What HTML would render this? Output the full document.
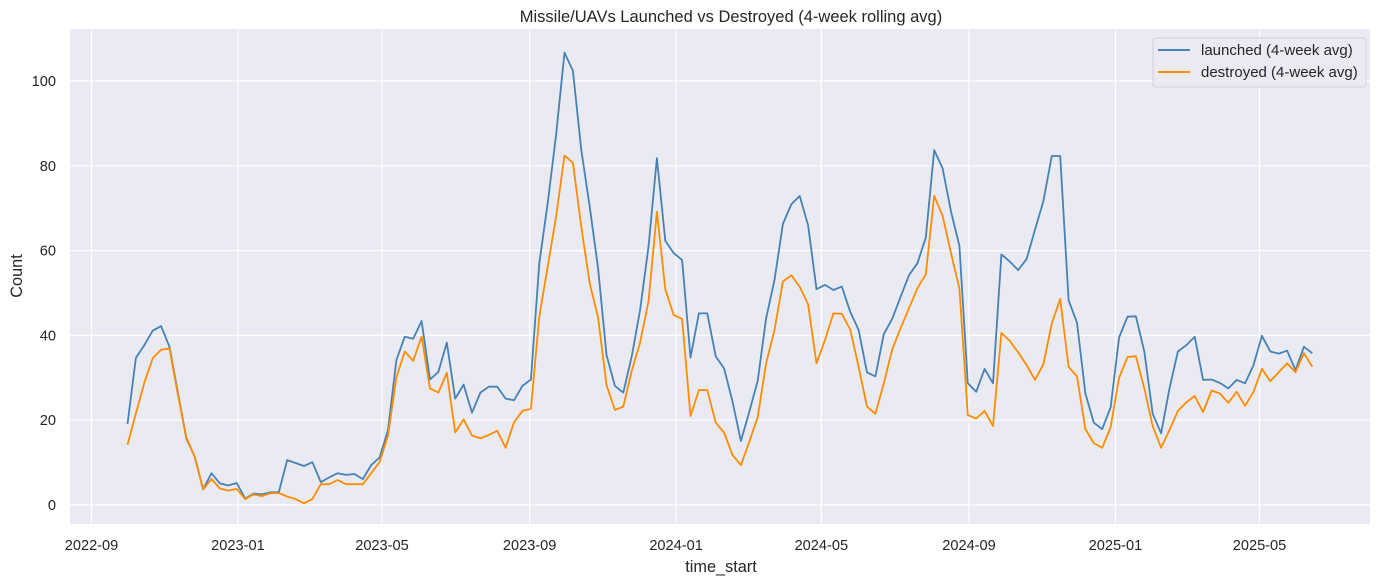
<!DOCTYPE html>
<html><head><meta charset="utf-8"><style>
body{margin:0;background:#fff;}
svg{display:block;font-family:"Liberation Sans","DejaVu Sans",sans-serif;}
</style></head><body>
<svg id="chart" width="1384" height="584" viewBox="0 0 1384 584" xmlns="http://www.w3.org/2000/svg">
<rect x="70" y="29" width="1300" height="495" fill="#eaeaf2"/>
<g id="grid"></g>
<g id="lines"></g>
<g id="ticks" fill="#262626" font-size="14.6"></g>
<text x="731" y="22" text-anchor="middle" font-size="16.5" fill="#262626">Missile/UAVs Launched vs Destroyed (4-week rolling avg)</text>
<text x="721" y="572" text-anchor="middle" font-size="16.3" fill="#262626">time_start</text>
<text transform="translate(22,276) rotate(-90)" text-anchor="middle" font-size="16.3" fill="#262626">Count</text>
<g>
<rect x="1153" y="38" width="213" height="49" rx="3" fill="#eaeaf2" fill-opacity="0.85" stroke="#d0d0d8"/>
<line x1="1158" y1="50" x2="1190" y2="50" stroke="#4682b4" stroke-width="2"/>
<text x="1201" y="55" font-size="15" fill="#262626">launched (4-week avg)</text>
<line x1="1158" y1="72" x2="1190" y2="72" stroke="#ff8c00" stroke-width="2"/>
<text x="1201" y="77" font-size="15" fill="#262626">destroyed (4-week avg)</text>
</g>
</svg>
<script>
const launched = [19.1,34.7,37.7,41.1,42.2,37.3,26.5,15.7,11.4,3.7,7.5,5.1,4.6,5.2,1.5,2.7,2.5,3.0,3.0,10.6,9.9,9.2,10.1,5.4,6.5,7.5,7.1,7.3,6.1,9.4,11.2,17.7,34.2,39.7,
39.2,43.4,29.6,31.4,38.3,25.1,28.4,21.8,26.5,27.9,27.9,25.1,24.7,28.1,29.6,57.0,71.2,87.3,106.7,102.4,83.7,70.4,55.8,35.4,28.1,26.5,35.0,46.0,60.9,81.8,62.3,59.4,
57.8,34.8,45.2,45.2,35.1,32.2,24.4,15.1,22.0,29.3,44.0,53.1,66.3,70.9,72.9,66.0,50.9,51.9,50.7,51.5,45.6,41.3,31.3,30.3,40.3,43.9,49.1,54.2,57.0,63.1,83.7,79.4,69.2,61.1,28.7,26.7,32.1,
28.7,59.1,57.4,55.4,58.0,64.9,71.7,82.3,82.3,48.3,43.0,26.3,19.4,17.9,23.0,39.5,44.4,44.5,36.2,21.5,16.9,27.5,36.2,37.7,39.7,29.5,29.6,28.8,27.5,29.5,28.7,33.0,39.9,36.2,35.7,36.4,31.8,37.3,35.8];
const destroyed = [14.2,21.6,28.8,34.6,36.6,36.9,26,16,11.4,3.7,6.1,3.9,3.4,3.8,1.4,2.5,2.1,2.8,2.8,2.0,1.4,0.4,1.4,4.9,4.9,5.9,4.9,4.9,4.9,7.5,10.1,16.4,30.1,36.2,
34.0,39.7,27.5,26.5,31.2,17.1,20.2,16.4,15.7,16.5,17.5,13.5,19.5,22.2,22.7,44.4,56.2,68.0,82.4,80.7,65.6,52.3,44.2,28.3,22.4,23.2,31.6,38.3,48.0,69.2,50.9,44.8,
43.9,21.0,27.1,27.1,19.4,17.1,11.8,9.4,14.9,20.7,33.4,41.3,52.7,54.2,51.5,47.3,33.4,38.9,45.2,45.1,41.4,32.6,23.2,21.5,28.7,36.7,41.7,46.4,51.1,54.4,72.9,68.2,59.4,51.1,21.2,20.4,22.2,
18.6,40.6,38.7,36.0,33.0,29.5,33.2,42.8,48.6,32.6,30.3,17.9,14.6,13.5,18.3,30.0,34.9,35.1,27.5,18.6,13.5,17.7,22.2,24.2,25.7,21.9,27.0,26.3,24.1,26.7,23.4,26.7,32.1,29.2,31.3,33.4,31.3,35.8,32.6];
const startDate = "2022-10-01";
const xTickLabels = ["2022-09","2023-01","2023-05","2023-09","2024-01","2024-05","2024-09","2025-01","2025-05"];
const yTickValues = [0,20,40,60,80,100];

const NS="http://www.w3.org/2000/svg";
const DAY=86400000;
const t0=Date.UTC(2022,8,1);
const pxPerDay=1168/973;
function xScale(ms){return 91.5+(ms-t0)/DAY*pxPerDay;}
function yScale(v){return 505-v*4.24;}
const s=startDate.split("-").map(Number);
const startMs=Date.UTC(s[0],s[1]-1,s[2]);
function dateAt(i){return startMs+i*7*DAY;}

const grid=document.getElementById("grid"), ticks=document.getElementById("ticks"), lines=document.getElementById("lines");
function mk(tag,attrs,parent){const e=document.createElementNS(NS,tag);for(const k in attrs)e.setAttribute(k,attrs[k]);parent.appendChild(e);return e;}

yTickValues.forEach(v=>{
  const y=yScale(v);
  const g=mk("line",{x1:70,x2:1370,y1:y,y2:y,stroke:"#fff","stroke-width":1.2},grid);
  
  
  const t=mk("text",{x:56,y:y+5,"text-anchor":"end"},ticks);
  t.textContent=v;
  
  
});
xTickLabels.forEach(lbl=>{
  const p=lbl.split("-").map(Number);
  const x=xScale(Date.UTC(p[0],p[1]-1,1));
  const g=mk("line",{x1:x,x2:x,y1:29,y2:524,stroke:"#fff","stroke-width":1.2},grid);
  
  
  const t=mk("text",{x:x,y:550,"text-anchor":"middle"},ticks);
  t.textContent=lbl;
  
  
});
function drawSeries(vals,color,name){
  const pts=vals.map((v,i)=>xScale(dateAt(i)).toFixed(1)+","+yScale(v).toFixed(1)).join(" ");
  const pl=mk("polyline",{points:pts,fill:"none",stroke:color,"stroke-width":1.8,"stroke-linejoin":"round"},lines);
  
  
}
drawSeries(launched,"#4682b4","launched-line");
drawSeries(destroyed,"#ff8c00","destroyed-line");
</script>
</body></html>
